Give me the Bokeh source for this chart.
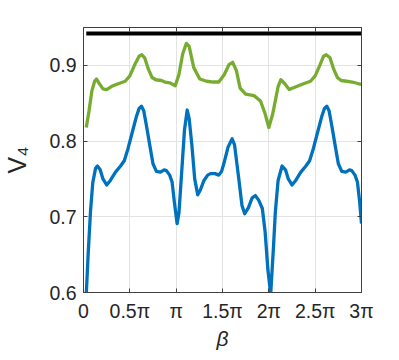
from bokeh.plotting import figure
from bokeh.models import Range1d, FixedTicker, LinearAxis, CustomJSTickFormatter
from bokeh.embed import file_html
from bokeh.resources import INLINE

# beta in units of pi
beta_blue = [0.03, 0.05, 0.075, 0.10, 0.13, 0.15, 0.18, 0.21, 0.25, 0.29, 0.345, 0.40, 0.44, 0.48,
             0.525, 0.57, 0.60, 0.626, 0.65, 0.68, 0.716, 0.75, 0.787, 0.83, 0.87, 0.895, 0.93,
             0.956, 0.98, 1.01, 1.03, 1.06, 1.09, 1.119, 1.14, 1.17, 1.20, 1.233, 1.26, 1.30,
             1.34, 1.37, 1.42, 1.46, 1.49, 1.514, 1.56, 1.604, 1.63, 1.676, 1.71, 1.74, 1.78,
             1.82, 1.855, 1.89, 1.93, 1.96, 1.99, 2.02, 2.05, 2.07, 2.10, 2.143, 2.18, 2.21,
             2.25, 2.29, 2.345, 2.40, 2.44, 2.48, 2.525, 2.57, 2.60, 2.626, 2.65, 2.68, 2.716,
             2.75, 2.787, 2.83, 2.87, 2.895, 2.93, 2.956, 2.98, 3.0]
v_blue = [0.598, 0.650, 0.706, 0.745, 0.764, 0.767, 0.762, 0.750, 0.742, 0.748, 0.759, 0.767,
          0.774, 0.790, 0.811, 0.832, 0.843, 0.846, 0.840, 0.820, 0.794, 0.770, 0.760, 0.759,
          0.762, 0.761, 0.755, 0.746, 0.720, 0.691, 0.705, 0.760, 0.815, 0.841, 0.830, 0.794,
          0.750, 0.729, 0.735, 0.748, 0.755, 0.757, 0.757, 0.755, 0.760, 0.770, 0.792, 0.803,
          0.795, 0.750, 0.715, 0.704, 0.712, 0.725, 0.728, 0.722, 0.711, 0.680, 0.630, 0.598,
          0.660, 0.706, 0.748, 0.767, 0.762, 0.750, 0.742, 0.748, 0.759, 0.767, 0.774, 0.790,
          0.811, 0.832, 0.843, 0.846, 0.840, 0.820, 0.794, 0.770, 0.760, 0.759, 0.762, 0.761,
          0.755, 0.746, 0.720, 0.691]

beta_green = [0.03, 0.06, 0.09, 0.12, 0.14, 0.17, 0.21, 0.25, 0.30, 0.36, 0.45, 0.50, 0.55,
              0.60, 0.63, 0.66, 0.70, 0.74, 0.78, 0.84, 0.88, 0.93, 0.99, 1.03, 1.07, 1.11,
              1.14, 1.19, 1.255, 1.33, 1.40, 1.46, 1.52, 1.57, 1.61, 1.65, 1.69, 1.75, 1.84,
              1.91, 1.96, 2.0, 2.04, 2.07, 2.10, 2.13, 2.17, 2.22, 2.30, 2.36, 2.45, 2.50,
              2.55, 2.59, 2.62, 2.66, 2.70, 2.74, 2.78, 2.84, 2.90, 2.96, 3.0]
v_green = [0.818, 0.840, 0.866, 0.879, 0.882, 0.876, 0.869, 0.868, 0.872, 0.875, 0.879, 0.886,
           0.900, 0.912, 0.914, 0.910, 0.895, 0.884, 0.881, 0.880, 0.878, 0.877, 0.873, 0.888,
           0.915, 0.929, 0.925, 0.897, 0.882, 0.879, 0.878, 0.878, 0.888, 0.901, 0.904, 0.893,
           0.870, 0.862, 0.860, 0.853, 0.836, 0.818, 0.835, 0.853, 0.872, 0.881, 0.876, 0.868,
           0.872, 0.875, 0.879, 0.886, 0.900, 0.912, 0.914, 0.910, 0.895, 0.884, 0.880, 0.879,
           0.878, 0.876, 0.875]

beta_bound = [0.03, 3.0]
v_bound = [0.942, 0.942]

x_ticks = [0, 0.5, 1, 1.5, 2, 2.5, 3]
x_tick_labels = ["0", "0.5\u03c0", "\u03c0", "1.5\u03c0", "2\u03c0", "2.5\u03c0", "3\u03c0"]
y_ticks = [0.6, 0.7, 0.8, 0.9]

FONT = "Liberation Sans"
AX = "#404040"
TXT = "#262626"

p = figure(width=391, height=352, x_range=Range1d(0, 3), y_range=Range1d(0.6, 0.95),
           output_backend="svg", toolbar_location=None,
           min_border_left=83, min_border_right=30, min_border_top=27, min_border_bottom=60)
p.background_fill_color = "white"
p.border_fill_color = "white"
p.outline_line_color = AX
p.outline_line_width = 1

p.line(beta_bound, v_bound, line_color="black", line_width=4)
p.line(beta_green, v_green, line_color="#77AC30", line_width=3.3, line_join="round")
p.line(beta_blue, v_blue, line_color="#0072BD", line_width=3.3, line_join="round")

xa = p.xaxis[0]
ya = p.yaxis[0]
xa.ticker = FixedTicker(ticks=x_ticks)
xa.major_label_overrides = {t: s for t, s in zip(x_ticks, x_tick_labels)}
ya.ticker = FixedTicker(ticks=y_ticks)
for ax in (xa, ya):
    ax.major_tick_in = 4
    ax.major_tick_out = 0
    ax.minor_tick_line_color = None
    ax.axis_line_color = AX
    ax.major_tick_line_color = AX
    ax.major_label_text_font = FONT
    ax.major_label_text_font_size = "19.5px"
    ax.major_label_text_color = TXT
    ax.major_label_standoff = 7
    ax.axis_label_text_font = FONT
    ax.axis_label_text_color = TXT

xa.axis_label = "\u03b2"
xa.axis_label_text_font_style = "italic"
xa.axis_label_text_font_size = "21px"
xa.axis_label_standoff = 2
ya.axis_label = "V\u2084"
ya.axis_label_text_font_style = "normal"
ya.axis_label_text_font_size = "25px"
ya.axis_label_standoff = 15

blank = CustomJSTickFormatter(code="return '';")
top = LinearAxis(ticker=FixedTicker(ticks=x_ticks), formatter=blank, major_tick_in=4,
                 major_tick_out=0, minor_tick_line_color=None, axis_line_color=AX,
                 major_tick_line_color=AX, major_label_standoff=0)
right = LinearAxis(ticker=FixedTicker(ticks=y_ticks), formatter=blank, major_tick_in=4,
                   major_tick_out=0, minor_tick_line_color=None, axis_line_color=AX,
                   major_tick_line_color=AX, major_label_standoff=0)
p.add_layout(top, "above")
p.add_layout(right, "right")

p.xgrid.ticker = FixedTicker(ticks=x_ticks)
p.ygrid.ticker = FixedTicker(ticks=y_ticks)
p.grid.grid_line_color = "#e3e3e3"
p.grid.grid_line_width = 1

open("out.html", "w").write(file_html(p, INLINE))
